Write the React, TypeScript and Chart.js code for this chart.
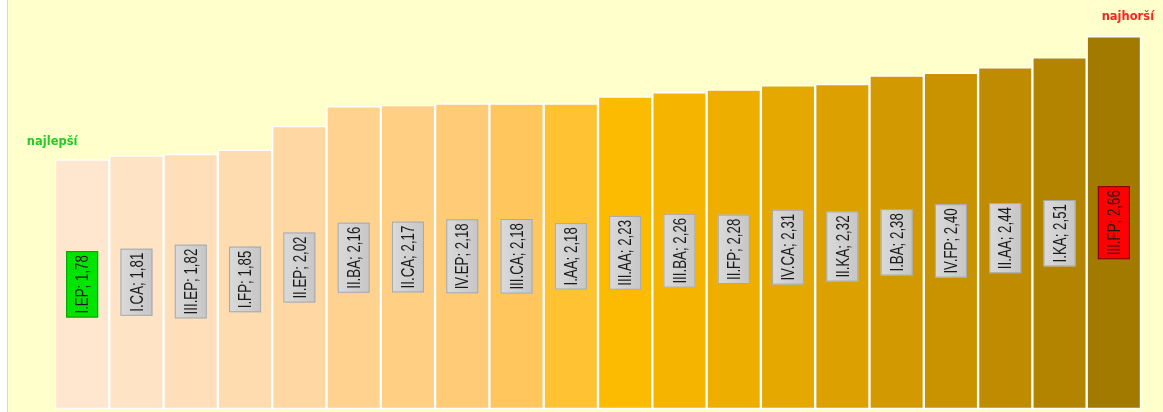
import React, { useEffect, useRef } from "react";
import { Chart, registerables } from "chart.js";

Chart.register(...registerables);

const categories = [
  "I.EP", "I.CA", "III.EP", "I.FP", "II.EP", "II.BA", "II.CA", "IV.EP", "III.CA", "I.AA",
  "III.AA", "III.BA", "II.FP", "IV.CA", "II.KA", "I.BA", "IV.FP", "II.AA", "I.KA", "III.FP",
];
const values = [
  1.78, 1.81, 1.82, 1.85, 2.02, 2.16, 2.17, 2.18, 2.18, 2.18,
  2.23, 2.26, 2.28, 2.31, 2.32, 2.38, 2.40, 2.44, 2.51, 2.66,
];
const barColors = [
  "#FFE6CE", "#FFE3C5", "#FFDFBA", "#FFDCB0", "#FFD7A2", "#FFD38F", "#FFCF84", "#FFCB77", "#FFC65E", "#FFC232",
  "#FDBB00", "#F5B400", "#EDAE00", "#E5A800", "#DCA100", "#D29A00", "#C99300", "#BF8B00", "#B38400", "#A27A00",
];
const bestLabel = "najlepší";
const worstLabel = "najhorší";

const TEXT_SQUEEZE = 0.7;

const labelPlugin = {
  id: "barLabels",
  afterDatasetsDraw(chart: any) {
    const ctx = chart.ctx;
    const meta = chart.getDatasetMeta(0);
    const n = meta.data.length;
    ctx.save();
    meta.data.forEach((bar: any, i: number) => {
      const text = `${categories[i]}; ${values[i].toFixed(2).replace(".", ",")}`;
      const cy = (bar.y + bar.base) / 2;
      const cx = bar.x;
      ctx.save();
      ctx.translate(cx, cy);
      ctx.rotate(-Math.PI / 2);
      ctx.font = '19px "Liberation Sans", Arial, sans-serif';
      const w = ctx.measureText(text).width * TEXT_SQUEEZE;
      const bw = w + 8;
      const bh = 32;
      let fill: any;
      let stroke: string;
      if (i === 0) {
        fill = "#00E400";
        stroke = "#00A000";
      } else if (i === n - 1) {
        fill = "#FF0000";
        stroke = "#7A0000";
      } else {
        const g = ctx.createLinearGradient(0, -bh / 2, 0, bh / 2);
        g.addColorStop(0, "#DADADA");
        g.addColorStop(1, "#C6C6C6");
        fill = g;
        stroke = "#A8A8A8";
      }
      ctx.fillStyle = fill;
      ctx.fillRect(-bw / 2, -bh / 2, bw, bh);
      ctx.lineWidth = 1;
      ctx.strokeStyle = stroke;
      ctx.strokeRect(-bw / 2 + 0.5, -bh / 2 + 0.5, bw - 1, bh - 1);
      ctx.fillStyle = "#1a1a1a";
      ctx.textAlign = "center";
      ctx.textBaseline = "middle";
      ctx.scale(TEXT_SQUEEZE, 1);
      ctx.fillText(text, 0, 1);
      ctx.restore();
    });
    // annotations
    ctx.font = 'bold 11.5px "DejaVu Sans", sans-serif';
    ctx.textAlign = "center";
    ctx.textBaseline = "middle";
    const first = meta.data[0];
    ctx.fillStyle = "#22CC22";
    ctx.fillText(bestLabel, first.x - 30, first.y - 18);
    const last = meta.data[n - 1];
    ctx.fillStyle = "#FF2222";
    ctx.fillText(worstLabel, last.x + 14, last.y - 19);
    ctx.restore();
  },
};

export default function App() {
  const ref = useRef<HTMLCanvasElement | null>(null);
  useEffect(() => {
    if (!ref.current) return;
    const chart = new Chart(ref.current, {
      type: "bar",
      data: {
        labels: categories,
        datasets: [
          {
            data: values,
            backgroundColor: barColors,
            borderColor: "#FFFFFF",
            borderWidth: 1.5,
            borderSkipped: false,
            categoryPercentage: 1,
            barPercentage: 1,
          },
        ],
      },
      options: {
        responsive: false,
        animation: false,
        layout: { padding: { left: 47, right: 22, top: 0, bottom: 3 } },
        plugins: { legend: { display: false }, tooltip: { enabled: false } },
        scales: {
          x: { display: false },
          y: { display: false, min: 0, max: 2.92 },
        },
      },
      plugins: [labelPlugin],
    });
    return () => chart.destroy();
  }, []);
  return (
    <div style={{ position: "fixed", left: 0, top: 0, width: 1163, height: 412, background: "#FFFFFF" }}>
      <div
        style={{
          position: "absolute",
          left: 7,
          top: 0,
          width: 1156,
          height: 412,
          background: "#FFFFCC",
          borderLeft: "1px solid #D8D8D8",
          boxSizing: "border-box",
        }}
      >
        <canvas ref={ref} width={1155} height={412} style={{ display: "block" }} />
      </div>
    </div>
  );
}
